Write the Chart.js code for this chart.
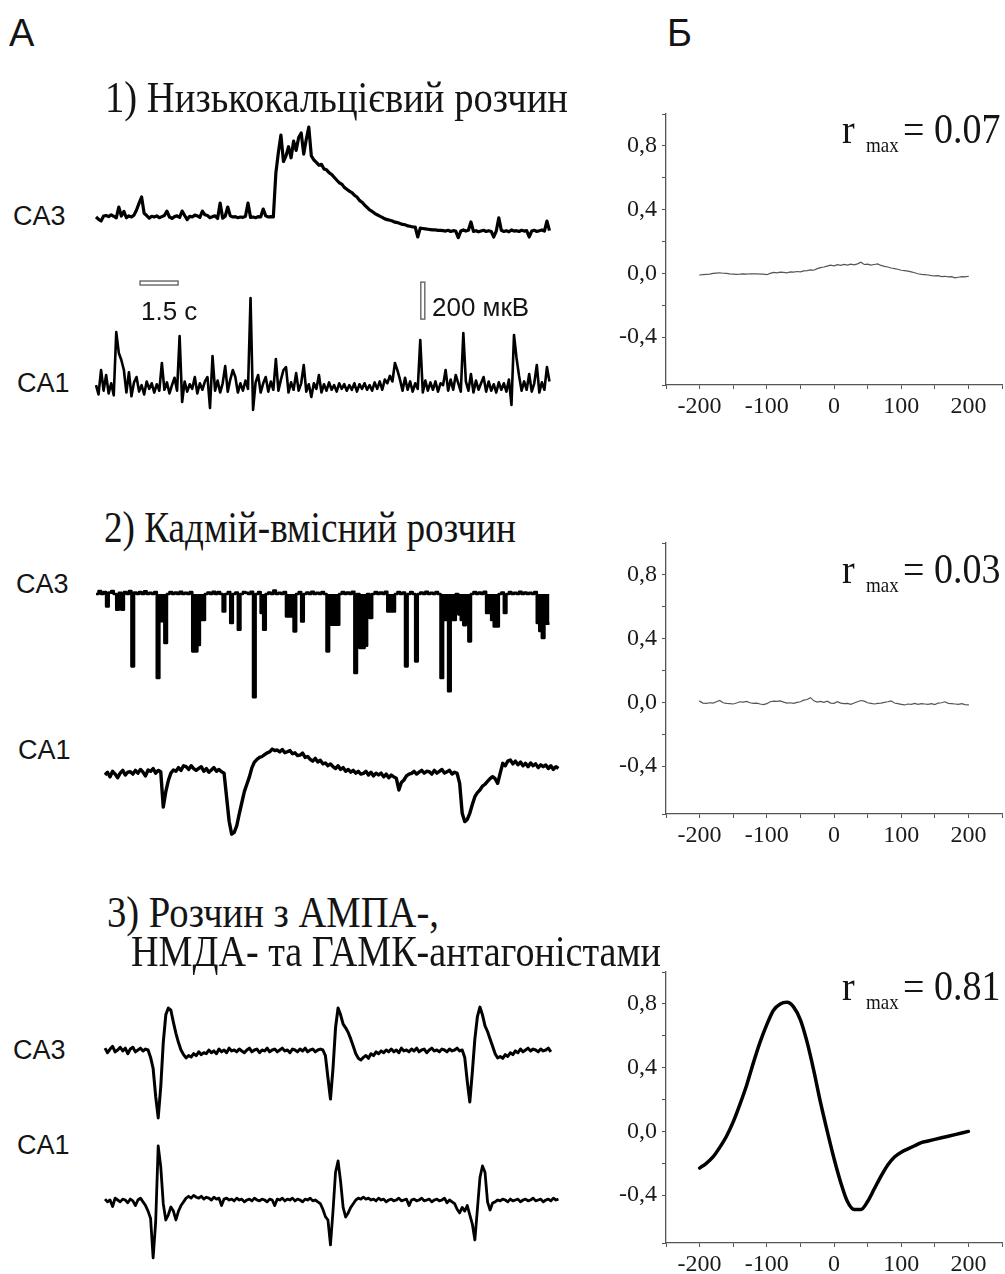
<!DOCTYPE html>
<html>
<head>
<meta charset="utf-8">
<script src="https://cdn.jsdelivr.net/npm/chart.js@4.4.1/dist/chart.umd.min.js"></script>
<style>
html, body { margin: 0; padding: 0; background: #fff; }
body { width: 1005px; height: 1274px; position: relative; overflow: hidden; }
canvas { position: absolute; }
.t { position: absolute; white-space: nowrap; line-height: 1; color: #141414; transform-origin: 0 0; }
.sans { font-family: 'Liberation Sans', Arial, sans-serif; }
.serif { font-family: 'Liberation Serif', 'Times New Roman', serif; }
</style>
</head>
<body>
<script>
// Field potential traces, sampled every DT seconds (values in microvolts, 0 = baseline)
const DT = 0.1;

// 1) low-calcium solution
const lowCaCA3 = [
  0, -12, -22, 5, 8, 2, 12, 4, -5, 54,
  5, 30, -4, 6, 0, 10, 38, 75, 108, 20,
  8, -6, 4, 0, 6, -4, 2, 8, 32, 0,
  -8, 2, 6, -2, 32, 8, -14, 4, 0, 10,
  6, -2, 32, 12, 8, -4, 2, 6, -8, 75,
  -6, 4, 54, 6, 0, 2, -4, 0, -2, 4,
  75, -2, 0, -4, 2, 0, 43, 6, 0, 2,
  0, 238, 350, 443, 300, 330, 380, 320, 410, 360,
  430, 454, 340, 420, 486, 330, 308, 295, 280, 285,
  260, 255, 240, 230, 215, 200, 185, 178, 160, 150,
  140, 132, 118, 108, 90, 80, 65, 52, 38, 30,
  20, 12, 5, -2, -10, -14, -18, -22, -28, -30,
  -35, -40, -42, -48, -50, -54, -54, -108, -60, -62,
  -64, -66, -68, -70, -70, -72, -72, -74, -76, -72,
  -78, -74, -76, -112, -76, -70, -76, -72, -27, -78,
  -74, -80, -76, -72, -78, -74, -78, -108, -76, -5,
  -72, -78, -74, -80, -70, -76, -74, -78, -72, -76,
  -74, -108, -76, -72, -78, -74, -70, -76, -22, -74
];
const lowCaCA1 = [
  10, -40, 92, -20, 65, -35, 20, -45, 297, 184,
  146, 92, -30, 80, -50, 25, 54, -25, 10, -40,
  30, -10, 20, -30, 15, -20, 130, -15, 25, -35,
  10, 50, -20, 275, -81, 30, -25, 15, -10, 54,
  -35, 20, -15, 30, 54, -113, 167, -20, 35, -30,
  20, 113, -25, 40, 92, 54, -30, 20, -20, 35,
  -10, 481, -124, 25, 65, -30, 20, 54, -25, 30,
  -15, 151, -20, 40, 92, 108, -30, 25, -15, 75,
  -20, 20, 119, -25, 15, -54, 20, -10, 65, -30,
  15, -20, 25, -15, 10, -25, 20, -10, 15, -20,
  10, -15, 20, -25, 15, -10, 20, -15, 10, -20,
  25, -10, 30, -15, 40, 20, 60, 30, 130, 90,
  40, -20, 50, -15, 30, -25, 20, -10, 254, -30,
  35, -20, 25, -15, 30, -25, 20, 10, 92, -20,
  40, -15, 65, 20, -25, 292, 30, -20, 70, -30,
  35, -15, 20, 54, -25, 30, -20, 15, -30, 25,
  -15, 20, -25, 40, -97, 281, 157, 60, -20, 30,
  -15, 70, -25, 20, 119, -30, 25, -15, 108, 30
];

// 2) cadmium-containing solution
const cdCA3 = [
  0, 16, 0, 10, -67, 8, 16, 0, -85, 6,
  -85, 10, 0, 16, -391, 8, 0, 10, 0, 14,
  0, 6, 0, 10, -454, -147, -147, -265, 0, 10,
  0, 8, 0, 12, 0, 6, 0, 10, -310, -310,
  -275, -140, -140, 0, 8, 0, 12, 0, 10, 0,
  -94, 0, 10, -157, 0, 8, -193, 0, 10, 6,
  0, 12, -558, 0, 10, -103, -193, 0, 8, 0,
  18, 0, 6, 0, 10, -121, -121, -121, -202, 0,
  10, -148, 0, 8, 0, 12, 0, 6, 0, 10,
  0, -310, -166, -166, -166, -166, 0, 10, 0, 8,
  0, 12, -427, 0, -292, -292, -280, 0, -130, 0,
  10, 0, 8, 0, 12, -94, -94, -94, 0, 10,
  0, 8, -391, 0, 10, 0, -364, 0, 8, 0,
  12, 0, 6, 0, 10, 0, -454, -140, -140, -526,
  -140, -140, 0, -110, -140, -168, -120, -256, 0, 10,
  0, 8, 0, 12, -103, -103, -140, -175, -175, 0,
  8, -103, 0, 10, 0, 6, 0, 12, 0, 8,
  0, 6, 0, 10, -157, -200, -238, -160, -160, -160
];
const cdCA1 = [
  0, 15, -10, 20, 5, -15, 10, 25, 0, 15,
  18, 5, 25, 10, 30, 15, -5, 27, 20, 35,
  10, 25, 18, -173, -90, -30, 10, 27, 20, 40,
  25, 50, 45, 30, 50, 35, 25, 36, 45, 20,
  35, 15, 27, 40, 20, 30, 18, 10, -120, -250,
  -320, -310, -275, -210, -150, -90, -50, -10, 40, 70,
  85, 95, 100, 110, 120, 125, 140, 132, 135, 125,
  138, 120, 126, 132, 115, 120, 105, 108, 118, 95,
  100, 85, 75, 90, 70, 80, 60, 65, 50, 60,
  45, 35, 50, 30, 40, 20, 30, 15, 25, 10,
  20, 5, 9, 20, 0, 15, -5, 10, 0, 10,
  -10, 5, -15, 0, -10, -18, -81, -40, -27, -5,
  5, 9, 20, 5, 15, 25, 10, 20, 18, 5,
  25, 10, 20, 30, 10, 18, 25, 5, 15, 9,
  -45, -207, -252, -240, -207, -160, -117, -95, -81, -60,
  -50, -35, -20, -9, -20, -45, 10, 63, 50, 75,
  81, 60, 75, 55, 70, 50, 63, 45, 65, 50,
  60, 40, 55, 45, 54, 35, 50, 30, 45, 36
];

// 3) AMPA-, NMDA- and GABA-antagonists
const blockCA3 = [
  10, -15, 5, 20, -10, 0, 15, -5, 10, -20,
  5, 15, -10, 0, 10, -5, 5, 0, -40, -100,
  -250, -367, -200, 40, 190, 227, 215, 150, 90, 40,
  0, -25, -43, -30, -38, -20, -30, -10, -25, -15,
  -20, 0, -15, -5, -20, 5, -10, 0, -15, 10,
  -5, 0, -10, 5, -5, -15, 0, 10, -10, 0,
  5, -15, 0, -5, 10, -10, 0, 5, -10, 0,
  10, -5, 0, -15, 5, 0, -10, 5, -5, 10,
  -10, 0, 5, -10, 0, 5, 0, -30, -150, -265,
  -100, 120, 227, 190, 140, 120, 95, 60, 20, -20,
  -45, -54, -40, -30, -45, -20, -30, -10, -20, -5,
  -15, 0, -10, 5, -10, 0, -15, 10, -5, 0,
  -10, 5, -5, 10, -10, 0, 5, -15, 0, 10,
  -5, 0, -10, 5, 0, -10, 5, -5, 0, 10,
  -5, 0, -40, -170, -281, -120, 60, 180, 232, 190,
  130, 100, 60, 20, -20, -43, -35, -45, -25, -35,
  -15, -25, -5, -15, 5, -10, 0, 10, -5, 5,
  0, -10, 5, -5, 0, 10, -10
];
const blockCA1 = [
  5, -10, 0, -35, 10, 0, -10, 5, 0, -15,
  5, -5, -30, 0, 10, -10, -30, -60, -100, -313,
  -120, 292, 180, -20, -108, -80, -38, -60, -108, -60,
  -30, -10, 10, 20, 10, 25, 15, 10, 20, 5,
  15, 10, 0, 15, 5, 10, -30, 5, 10, 0,
  5, -5, 10, 0, 5, -10, 0, 5, -5, 10,
  0, -5, 5, 0, -10, 5, 0, -30, 5, 0,
  10, -5, 5, 0, 10, -5, 5, 0, -10, 5,
  0, 10, -5, 0, -10, -20, -50, -90, -108, -243,
  -60, 150, 211, 100, -40, -92, -70, -40, -20, 0,
  10, 5, 15, 5, 10, 0, 5, -5, 10, 0,
  5, -10, 0, 5, -5, 0, 10, -5, 0, 5,
  -30, 0, 5, -5, 0, 10, -5, 0, 5, -10,
  0, 5, -5, 0, 10, -15, 0, -10, -20, -50,
  -70, -40, -60, -30, -80, -130, -216, -50, 120, 184,
  150, -10, -54, -16, -10, 0, -5, 5, 0, -10,
  5, -5, 0, 5, -10, 0, 5, -5, 0, 10,
  -5, 0, 5, -10, 0, 5, -5, 10, 0, 5
];

// Cross-correlation CA3 x CA1, lag in ms
const lagsFine = [
  -200, -195, -190, -185, -180, -175, -170, -165, -160, -155,
  -150, -145, -140, -135, -130, -125, -120, -115, -110, -105,
  -100, -95, -90, -85, -80, -75, -70, -65, -60, -55,
  -50, -45, -40, -35, -30, -25, -20, -15, -10, -5,
  0, 5, 10, 15, 20, 25, 30, 35, 40, 45,
  50, 55, 60, 65, 70, 75, 80, 85, 90, 95,
  100, 105, 110, 115, 120, 125, 130, 135, 140, 145,
  150, 155, 160, 165, 170, 175, 180, 185, 190, 195,
  200
];
const corrLowCa = [
  -0.010, -0.008, -0.006, -0.004, 0.000, 0.002, 0.004, 0.001, 0.000, -0.003,
  -0.004, -0.006, -0.005, -0.003, -0.004, -0.002, -0.003, -0.002, -0.005, -0.004,
  -0.008, 0.000, 0.006, 0.004, 0.008, 0.006, 0.004, 0.010, 0.008, 0.012,
  0.010, 0.016, 0.018, 0.022, 0.020, 0.030, 0.036, 0.040, 0.046, 0.052,
  0.048, 0.055, 0.050, 0.056, 0.052, 0.058, 0.054, 0.060, 0.070, 0.056,
  0.058, 0.052, 0.056, 0.060, 0.050, 0.044, 0.040, 0.034, 0.030, 0.026,
  0.020, 0.018, 0.014, 0.010, 0.004, -0.002, -0.006, -0.008, -0.010, -0.014,
  -0.016, -0.014, -0.020, -0.018, -0.022, -0.020, -0.028, -0.024, -0.020, -0.022,
  -0.018
];
const corrCd = [
  0.008, -0.004, -0.006, -0.002, -0.004, 0.004, 0.012, -0.002, -0.006, -0.008,
  -0.010, -0.004, 0.004, 0.002, 0.006, -0.002, -0.006, -0.004, -0.010, -0.014,
  -0.008, 0.004, 0.008, 0.006, 0.010, 0.002, -0.004, -0.002, -0.006, 0.000,
  0.004, 0.014, 0.018, 0.030, 0.010, 0.002, 0.006, 0.000, 0.008, -0.004,
  -0.006, 0.004, -0.004, -0.008, -0.006, -0.012, -0.004, 0.004, 0.012, 0.008,
  -0.002, -0.006, -0.010, -0.006, -0.004, 0.000, 0.004, 0.010, -0.004, -0.008,
  -0.012, -0.016, -0.010, -0.012, -0.006, -0.012, -0.008, -0.010, -0.012, -0.008,
  -0.014, -0.004, -0.002, 0.004, -0.006, -0.008, -0.010, -0.012, -0.008, -0.014,
  -0.016
];
const lagsCoarse = [
  -200, -190, -180, -170, -160, -150, -140, -130, -120, -110,
  -100, -90, -80, -70, -60, -50, -40, -30, -20, -10,
  0, 10, 20, 30, 40, 50, 60, 70, 80, 90,
  100, 110, 120, 130, 140, 150, 160, 170, 180, 190,
  200
];
const corrBlock = [
  -0.23, -0.20, -0.16, -0.10, -0.03, 0.06, 0.17, 0.29, 0.43, 0.56,
  0.67, 0.76, 0.80, 0.81, 0.78, 0.70, 0.56, 0.38, 0.18, 0.00,
  -0.17, -0.32, -0.44, -0.49, -0.49, -0.44, -0.36, -0.28, -0.21, -0.16,
  -0.13, -0.11, -0.09, -0.07, -0.06, -0.05, -0.04, -0.03, -0.02, -0.01,
  0.00
];
const rMax = ['0.07', '0.03', '0.81'];

// Calibration: 1.5 s and 200 uV scale bars
const BAR_TIME_S = 1.5;
const BAR_AMP_UV = 200;
const SEC_PER_PX = BAR_TIME_S / 38;
const UV_PER_PX = BAR_AMP_UV / 37;

const AXIS_COLOR = '#555';
const TEXT_COLOR = '#1a1a1a';

function makeCanvas(left, top, w, h) {
  const cv = document.createElement('canvas');
  cv.width = w;
  cv.height = h;
  cv.style.left = left + 'px';
  cv.style.top = top + 'px';
  document.body.appendChild(cv);
  return cv;
}

// draws the two hollow calibration bars using the trace's own scales
const scaleBars = {
  id: 'scaleBars',
  afterDatasetsDraw(chart, args, opts) {
    const { ctx, scales: { x, y } } = chart;
    ctx.save();
    ctx.strokeStyle = '#666';
    ctx.lineWidth = 1.4;
    const hx0 = x.getPixelForValue(opts.hT);
    const hx1 = x.getPixelForValue(opts.hT + BAR_TIME_S);
    const hy = y.getPixelForValue(opts.hUV);
    ctx.strokeRect(hx0, hy - 2, hx1 - hx0, 4);
    const vx = x.getPixelForValue(opts.vT);
    const vy0 = y.getPixelForValue(opts.vUV);
    const vy1 = y.getPixelForValue(opts.vUV + BAR_AMP_UV);
    ctx.strokeRect(vx - 2, vy1, 4, vy0 - vy1);
    ctx.restore();
  }
};

// one recording trace; box = where it sits on the page (x0/baseline = first sample)
function traceChart(values, box, style, extra) {
  const cv = makeCanvas(box.left, box.top, box.width, box.height);
  const xMin = -(box.x0 - box.left) * SEC_PER_PX;
  const yMax = (box.baseline - box.top) * UV_PER_PX;
  const cfg = {
    type: 'line',
    data: {
      datasets: [{
        data: values.map((v, i) => ({ x: i * DT, y: v })),
        borderColor: '#000',
        backgroundColor: '#000',
        borderWidth: style.width,
        stepped: style.stepped || false,
        fill: style.stepped ? 'origin' : false,
        borderJoinStyle: 'round',
        pointRadius: 0,
        tension: 0,
        clip: false
      }]
    },
    options: {
      responsive: false,
      animation: false,
      devicePixelRatio: 1,
      layout: { padding: 0 },
      plugins: { legend: { display: false }, tooltip: { enabled: false } },
      scales: {
        x: { type: 'linear', display: false, min: xMin, max: xMin + box.width * SEC_PER_PX },
        y: { display: false, min: yMax - box.height * UV_PER_PX, max: yMax }
      }
    },
    plugins: []
  };
  if (extra) {
    cfg.plugins.push(scaleBars);
    cfg.options.plugins.scaleBars = extra;
  }
  return new Chart(cv, cfg);
}

// correlation panel; plot area spans x 666..1002 and top..top+271
function corrChart(top, lags, r, style) {
  const cv = makeCanvas(600, top - 20, 405, 336);
  const tickFont = { family: "'Liberation Serif', 'Times New Roman', serif", size: 24 };
  new Chart(cv, {
    type: 'line',
    data: {
      datasets: [{
        data: lags.map((x, i) => ({ x: x, y: r[i] })),
        borderColor: style.color,
        borderWidth: style.width,
        pointRadius: 0,
        tension: style.smooth ? 0.4 : 0,
        cubicInterpolationMode: style.smooth ? 'monotone' : 'default',
        borderCapStyle: 'round',
        clip: false
      }]
    },
    options: {
      responsive: false,
      animation: false,
      devicePixelRatio: 1,
      layout: { padding: { top: 20, right: 3, left: 0, bottom: 0 } },
      plugins: { legend: { display: false }, tooltip: { enabled: false } },
      scales: {
        x: {
          type: 'linear', min: -250, max: 250,
          afterFit(s) { s.height = 45; },
          border: { color: AXIS_COLOR, width: 1.3 },
          grid: { drawOnChartArea: false, tickLength: 4, color: AXIS_COLOR },
          ticks: {
            stepSize: 50, autoSkip: false, maxRotation: 0, padding: 3,
            font: tickFont, color: TEXT_COLOR,
            callback: v => (v % 100 === 0 && Math.abs(v) <= 200) ? String(v) : ''
          }
        },
        y: {
          min: -0.7, max: 1.0,
          afterFit(s) { s.width = 66; },
          border: { color: AXIS_COLOR, width: 1.3 },
          grid: { drawOnChartArea: false, tickLength: 4, color: AXIS_COLOR },
          ticks: {
            stepSize: 0.2, autoSkip: false, padding: 5,
            font: tickFont, color: TEXT_COLOR,
            callback: v => {
              const k = Math.round(v * 10);
              return (k % 4 === 0 && k >= -4 && k <= 8) ? v.toFixed(1).replace('.', ',') : '';
            }
          }
        }
      }
    }
  });
}

// text placed by its baseline; optional fit width and vertical stretch
const measure = document.createElement('canvas').getContext('2d');
function addText(text, family, size, left, baseline, opt) {
  opt = opt || {};
  const el = document.createElement('div');
  el.className = 't ' + family;
  el.textContent = text;
  el.style.fontSize = size + 'px';
  const sy = opt.sy || 1;
  let sx = opt.sx || 1;
  if (opt.fit) {
    measure.font = size + 'px ' + (family === 'serif' ? "'Liberation Serif'" : "'Liberation Sans'");
    sx = opt.fit / measure.measureText(text).width;
  }
  const k = family === 'serif' ? 0.8375 : 0.8465;
  el.style.left = left + 'px';
  el.style.top = (baseline - k * size * sy) + 'px';
  el.style.transform = 'scale(' + sx + ',' + sy + ')';
  document.body.appendChild(el);
}

// --- column A: traces
traceChart(lowCaCA3, { left: 86, top: 118, width: 476, height: 132, x0: 96, baseline: 217 }, { width: 3.2 });
traceChart(lowCaCA1, { left: 86, top: 272, width: 476, height: 150, x0: 96, baseline: 387 }, { width: 2.6 },
  { hT: 1.74, hUV: 562, vT: 12.9, vUV: 367 });
traceChart(cdCA3, { left: 86, top: 570, width: 476, height: 140, x0: 96, baseline: 594 }, { width: 2.6, stepped: true });
traceChart(cdCA1, { left: 95, top: 735, width: 476, height: 110, x0: 105, baseline: 775 }, { width: 3.4 });
traceChart(blockCA3, { left: 95, top: 995, width: 476, height: 135, x0: 105, baseline: 1050 }, { width: 3 });
traceChart(blockCA1, { left: 95, top: 1135, width: 476, height: 136, x0: 105, baseline: 1200 }, { width: 2.8 });

// --- column Б: cross-correlation
corrChart(114, lagsFine, corrLowCa, { color: '#555', width: 1.2 });
corrChart(543, lagsFine, corrCd, { color: '#555', width: 1.2 });
corrChart(972, lagsCoarse, corrBlock, { color: '#000', width: 3.5, smooth: true });

// --- labels
addText('А', 'sans', 38, 9, 46);
addText('Б', 'sans', 38, 667, 46);

const TITLE_SIZE = 40, TITLE_SY = 1.12;
addText('1) Низькокальцієвий розчин', 'serif', TITLE_SIZE, 105, 113, { fit: 463, sy: TITLE_SY });
addText('2) Кадмій-вмісний розчин', 'serif', TITLE_SIZE, 104, 543, { fit: 412, sy: TITLE_SY });
addText('3) Розчин з АМПА-,', 'serif', TITLE_SIZE, 107, 928, { fit: 332, sy: TITLE_SY });
addText('НМДА- та ГАМК-антагоністами', 'serif', TITLE_SIZE, 131, 967, { fit: 530, sy: TITLE_SY });

const CA_SIZE = 27;
addText('CA3', 'sans', CA_SIZE, 13, 226);
addText('CA1', 'sans', CA_SIZE, 17, 393);
addText('CA3', 'sans', CA_SIZE, 16, 594);
addText('CA1', 'sans', CA_SIZE, 18, 760);
addText('CA3', 'sans', CA_SIZE, 13, 1060);
addText('CA1', 'sans', CA_SIZE, 17, 1155);

addText('1.5 с', 'sans', 26, 141, 320);
addText('200 мкВ', 'sans', 26, 432, 316);

[143, 583, 1000].forEach((base, i) => {
  addText('r', 'serif', 38, 842, base, { sy: 1.12 });
  addText('max', 'serif', 19, 866, base + 9, { sy: 1.1 });
  addText('= ' + rMax[i], 'serif', 38, 903, base, { sy: 1.12 });
});
</script>
</body>
</html>
